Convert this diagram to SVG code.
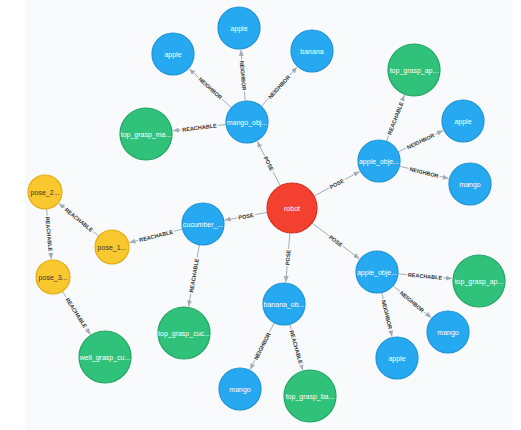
<svg xmlns="http://www.w3.org/2000/svg" width="521" height="430" viewBox="0 0 521 430">
<style>
.bg{fill:#f8fafc}
.e{stroke:#a5abb6;stroke-width:1;fill:none;marker-end:url(#arr)}
.el{font-family:"Liberation Sans",Arial,sans-serif;font-size:5.5px;font-weight:bold;fill:#333;stroke:#f8fafc;stroke-width:3;paint-order:stroke;text-anchor:middle;dominant-baseline:central}
.blue{fill:#26a9f1;stroke:#1c92d6;stroke-width:1.2}
.green{fill:#30c17b;stroke:#22a563;stroke-width:1.2}
.yellow{fill:#f9c82f;stroke:#e5ad12;stroke-width:1.2}
.red{fill:#f4412f;stroke:#d72e1e;stroke-width:1.2}
.t{font-family:"Liberation Sans",Arial,sans-serif;font-size:7px;fill:#ffffff;text-anchor:middle;dominant-baseline:central}
.td{font-family:"Liberation Sans",Arial,sans-serif;font-size:7px;fill:#333;text-anchor:middle;dominant-baseline:central}
</style>
<defs>
<marker id="arr" markerUnits="userSpaceOnUse" markerWidth="6" markerHeight="5" refX="6" refY="2.5" orient="auto">
<path d="M0,0 L6,2.5 L0,5 z" fill="#a5abb6"/>
</marker>
</defs>
<rect x="0" y="0" width="521" height="430" fill="#ffffff"/>
<rect class="bg" x="25" y="0" width="487" height="430"/>
<g id="connectors">
<line class="e" x1="280.4" y1="185.9" x2="257.2" y2="141.5"/>
<text class="el" transform="translate(268.8,163.7) rotate(62.4)">POSE</text>
<line class="e" x1="231.5" y1="107.8" x2="189.2" y2="68.9"/>
<text class="el" transform="translate(210.4,88.3) rotate(42.6)">NEIGHBOR</text>
<line class="e" x1="245.2" y1="101.1" x2="240.9" y2="49.9"/>
<text class="el" transform="translate(243,75.5) rotate(85.1)">NEIGHBOR</text>
<line class="e" x1="261.2" y1="106.5" x2="297.1" y2="67.2"/>
<text class="el" transform="translate(279.2,86.9) rotate(-47.5)">NEIGHBOR</text>
<line class="e" x1="226.1" y1="124.5" x2="172.8" y2="130.8"/>
<text class="el" transform="translate(199.5,127.6) rotate(-6.8)">REACHABLE</text>
<line class="e" x1="314" y1="196.1" x2="359.6" y2="171.5"/>
<text class="el" transform="translate(336.8,183.8) rotate(-28.4)">POSE</text>
<line class="e" x1="386.5" y1="141.4" x2="404.3" y2="95.2"/>
<text class="el" transform="translate(395.4,118.3) rotate(-69)">REACHABLE</text>
<line class="e" x1="398" y1="152" x2="443.1" y2="130.5"/>
<text class="el" transform="translate(420.6,141.2) rotate(-25.5)">NEIGHBOR</text>
<line class="e" x1="399.4" y1="166.1" x2="448.7" y2="178.6"/>
<text class="el" transform="translate(424,172.4) rotate(14.2)">NEIGHBOR</text>
<line class="e" x1="267.4" y1="212.4" x2="224.7" y2="220.1"/>
<text class="el" transform="translate(246,216.3) rotate(-10.2)">POSE</text>
<line class="e" x1="182.6" y1="229.1" x2="129.5" y2="242.6"/>
<text class="el" transform="translate(156.1,235.9) rotate(-14.2)">REACHABLE</text>
<line class="e" x1="98.9" y1="236.2" x2="58.9" y2="203.4"/>
<text class="el" transform="translate(78.9,219.8) rotate(39.4)">REACHABLE</text>
<line class="e" x1="46.6" y1="208.9" x2="51.3" y2="259.1"/>
<text class="el" transform="translate(49,234) rotate(84.6)">REACHABLE</text>
<line class="e" x1="62.3" y1="291.3" x2="90.3" y2="334.4"/>
<text class="el" transform="translate(76.3,312.8) rotate(57)">REACHABLE</text>
<line class="e" x1="199.4" y1="244.7" x2="188.6" y2="306.4"/>
<text class="el" transform="translate(194,275.5) rotate(-80.1)">REACHABLE</text>
<line class="e" x1="289.9" y1="232.9" x2="285.8" y2="282.1"/>
<text class="el" transform="translate(287.9,257.5) rotate(-85.2)">POSE</text>
<line class="e" x1="274.3" y1="322.7" x2="250.1" y2="369.5"/>
<text class="el" transform="translate(262.2,346.1) rotate(-62.6)">NEIGHBOR</text>
<line class="e" x1="289.7" y1="324.2" x2="302.7" y2="370"/>
<text class="el" transform="translate(296.2,347.1) rotate(74.2)">REACHABLE</text>
<line class="e" x1="312" y1="223" x2="359.4" y2="258.8"/>
<text class="el" transform="translate(335.7,240.9) rotate(37)">POSE</text>
<line class="e" x1="397.9" y1="273.8" x2="452.1" y2="278.6"/>
<text class="el" transform="translate(425,276.2) rotate(5)">REACHABLE</text>
<line class="e" x1="393" y1="285.6" x2="431.2" y2="317.8"/>
<text class="el" transform="translate(412.1,301.7) rotate(40.2)">NEIGHBOR</text>
<line class="e" x1="381.8" y1="292.5" x2="392" y2="336.6"/>
<text class="el" transform="translate(386.9,314.5) rotate(76.9)">NEIGHBOR</text>
</g>
<g id="robot"><circle class="red" cx="292" cy="208" r="25"/><text class="t" x="292" y="208">robot</text></g>
<g id="mango_obj"><circle class="blue" cx="247" cy="122" r="21"/><text class="t" x="247" y="122">mango_obj...</text></g>
<g id="apple_1"><circle class="blue" cx="173" cy="54" r="21"/><text class="t" x="173" y="54">apple</text></g>
<g id="apple_2"><circle class="blue" cx="239" cy="28" r="21"/><text class="t" x="239" y="28">apple</text></g>
<g id="banana_1"><circle class="blue" cx="312" cy="51" r="21"/><text class="t" x="312" y="51">banana</text></g>
<g id="top_grasp_ma"><circle class="green" cx="146" cy="134" r="26"/><text class="t" x="146" y="134">top_grasp_ma...</text></g>
<g id="apple_obj_1"><circle class="blue" cx="379" cy="161" r="21"/><text class="t" x="379" y="161">apple_obje...</text></g>
<g id="top_grasp_ap_1"><circle class="green" cx="414" cy="70" r="26"/><text class="t" x="414" y="70">top_grasp_ap...</text></g>
<g id="apple_3"><circle class="blue" cx="463" cy="121" r="21"/><text class="t" x="463" y="121">apple</text></g>
<g id="mango_2"><circle class="blue" cx="470" cy="184" r="21"/><text class="t" x="470" y="184">mango</text></g>
<g id="cucumber"><circle class="blue" cx="203" cy="224" r="21"/><text class="t" x="203" y="224">cucumber_...</text></g>
<g id="pose_1"><circle class="yellow" cx="112" cy="247" r="17"/><text class="td" x="112" y="247">pose_1...</text></g>
<g id="pose_2"><circle class="yellow" cx="45" cy="192" r="17"/><text class="td" x="45" y="192">pose_2...</text></g>
<g id="pose_3"><circle class="yellow" cx="53" cy="277" r="17"/><text class="td" x="53" y="277">pose_3...</text></g>
<g id="well_grasp_cu"><circle class="green" cx="105" cy="357" r="26"/><text class="t" x="105" y="357">well_grasp_cu...</text></g>
<g id="top_grasp_cuc"><circle class="green" cx="184" cy="333" r="26"/><text class="t" x="184" y="333">top_grasp_cuc...</text></g>
<g id="apple_obj_2"><circle class="blue" cx="377" cy="272" r="21"/><text class="t" x="377" y="272">apple_obje...</text></g>
<g id="top_grasp_ap_2"><circle class="green" cx="479" cy="281" r="26"/><text class="t" x="479" y="281">top_grasp_ap...</text></g>
<g id="mango_3"><circle class="blue" cx="448" cy="332" r="21"/><text class="t" x="448" y="332">mango</text></g>
<g id="apple_4"><circle class="blue" cx="397" cy="358" r="21"/><text class="t" x="397" y="358">apple</text></g>
<g id="banana_obj"><circle class="blue" cx="284" cy="304" r="21"/><text class="t" x="284" y="304">banana_ob...</text></g>
<g id="mango_4"><circle class="blue" cx="240" cy="389" r="21"/><text class="t" x="240" y="389">mango</text></g>
<g id="top_grasp_ba"><circle class="green" cx="310" cy="396" r="26"/><text class="t" x="310" y="396">top_grasp_ba...</text></g>
</svg>
